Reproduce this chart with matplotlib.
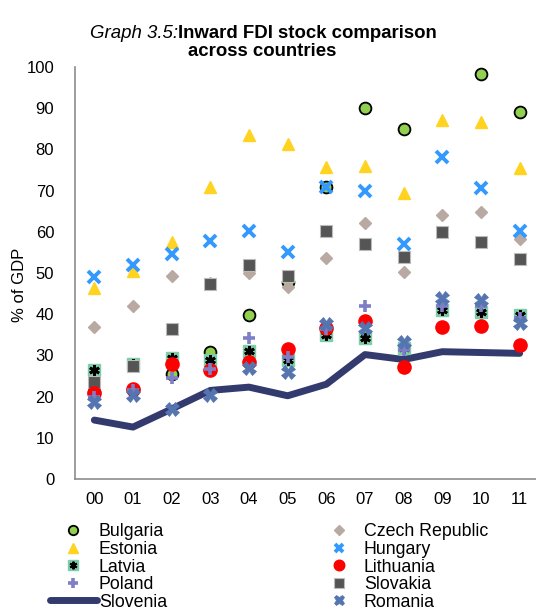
import numpy as np
import matplotlib
matplotlib.use("Agg")
import matplotlib.pyplot as plt
from matplotlib.lines import Line2D
from matplotlib.legend_handler import HandlerTuple

plt.rcParams['font.family'] = ['Liberation Sans', 'DejaVu Sans']

years = ["00", "01", "02", "03", "04", "05", "06", "07", "08", "09", "10", "11"]
bulgaria = [21.0, 21.5, 25.5, 30.8, 39.8, 47.8, 70.8, 90.0, 85.0, np.nan, 98.3, 89.0]
estonia = [46.4, 50.5, 57.5, 70.9, 83.5, 81.3, 75.7, 76.0, 69.4, 87.1, 86.6, 75.5]
latvia = [26.5, 27.8, 29.4, 28.9, 31.0, 28.9, 35.0, 34.2, 31.8, 41.0, 40.5, 39.8]
poland = [20.0, 21.6, 24.5, 26.7, 34.2, 29.7, 36.5, 42.0, 31.3, 42.0, 42.0, 39.0]
slovenia = [14.3, 12.6, 17.0, 21.5, 22.3, 20.2, 23.0, 30.2, 29.0, 30.9, 30.7, 30.5]
czech = [36.9, 42.0, 49.3, 47.5, 50.0, 46.7, 53.6, 62.2, 50.2, 64.0, 64.8, 58.2]
hungary = [49.1, 52.0, 54.6, 57.8, 60.2, 55.1, 70.9, 69.9, 57.0, 78.2, 70.6, 60.2]
lithuania = [20.9, 21.8, 28.0, 26.5, 28.4, 31.5, 36.6, 38.3, 27.2, 36.9, 37.1, 32.5]
slovakia = [23.6, 27.4, 36.4, 47.3, 51.9, 49.3, 60.2, 57.0, 54.0, 60.0, 57.5, 53.4]
romania = [18.7, 20.4, 17.0, 20.4, 27.0, 26.0, 37.6, 36.6, 33.3, 43.9, 43.4, 37.9]

W, H = 536, 610
fig = plt.figure(figsize=(W / 100, H / 100), dpi=100)
ax = fig.add_axes([75 / W, 1 - 479 / H, (539 - 75) / W, (479 - 67) / H])
x = np.arange(len(years))

# styles
s_slo = dict(color='#333B6E', lw=5, solid_capstyle='round', solid_joinstyle='round')
s_bul = dict(ls='none', marker='o', ms=8.5, mfc='#92D050', mec='black', mew=1.3)
s_est = dict(ls='none', marker='^', ms=9, mfc='#FFD320', mec='#FFD320')
s_cze = dict(ls='none', marker='D', ms=6.5, mfc='#B8AAA2', mec='#B8AAA2')
s_lat_bg = dict(ls='none', marker='s', ms=8, mfc='#7DCCAA', mec='#7DCCAA')
s_lat_fg = dict(ls='none', marker=(6, 2, 0), ms=7.5, mec='black', mew=2)
s_svk = dict(ls='none', marker='s', ms=8.5, mfc='#555555', mec='#BBBBBB', mew=0.8)
s_lit = dict(ls='none', marker='o', ms=9.5, mfc='#FF0000', mec='#FF0000')
s_pol = dict(ls='none', marker='+', ms=8.5, mec='#7F7FC8', mew=2.6)
s_hun = dict(ls='none', marker='x', ms=8, mec='#3399FF', mew=2.8)
s_rom = dict(ls='none', marker='X', ms=9.5, mfc='#5575B0', mec='#5575B0', mew=0.5)

ax.plot(x, slovenia, **s_slo, zorder=2)
ax.plot(x, bulgaria, **s_bul, zorder=3)
ax.plot(x, estonia, **s_est, zorder=3)
ax.plot(x, czech, **s_cze, zorder=3)
ax.plot(x, latvia, **s_lat_bg, zorder=3)
ax.plot(x, latvia, **s_lat_fg, zorder=3)
ax.plot(x, slovakia, **s_svk, zorder=3)
ax.plot(x, lithuania, **s_lit, zorder=3)
ax.plot(x, poland, **s_pol, zorder=3)
ax.plot(x, hungary, **s_hun, zorder=3)
ax.plot(x, romania, **s_rom, zorder=3)

ax.set_xlim(-0.5, len(years) - 0.5)
ax.set_ylim(0, 100)
ax.set_yticks(np.arange(0, 101, 10))
ax.set_xticks(x)
ax.set_xticklabels(years)
ax.tick_params(axis='both', length=0, labelsize=12, colors='black')
ax.tick_params(axis='y', pad=15)
ax.tick_params(axis='x', pad=9)
for s in ['top', 'right']:
    ax.spines[s].set_visible(False)
for s in ['left', 'bottom']:
    ax.spines[s].set_color('#8C8C8C')
    ax.spines[s].set_linewidth(1.2)
ax.set_ylabel('% of GDP', fontsize=12)
ax.yaxis.set_label_coords((27 - 75) / 464, 0.47)

# title with mixed styles
fig.canvas.draw()
r = fig.canvas.get_renderer()
t1 = fig.text(0, 1 - 34 / H, 'Graph 3.5:', style='italic', fontsize=13.4, va='center', ha='left')
t2 = fig.text(0, 1 - 34 / H, 'Inward FDI stock comparison', weight='bold', fontsize=13.4, va='center', ha='left')
w1 = t1.get_window_extent(r).width
w2 = t2.get_window_extent(r).width
start = 263 - (w1 + w2) / 2
t1.set_x(start / W)
t2.set_x((start + w1) / W)
fig.text(262 / W, 1 - 51 / H, 'across countries', weight='bold', fontsize=13.4, va='center', ha='center')

def h(style, scale=0.8, **extra):
    kw = dict(style)
    if 'ms' in kw:
        kw['ms'] = kw['ms'] * scale
    kw.update(extra)
    return Line2D([], [], **kw)

handles = [
    h(s_bul), h(s_est),
    (h(s_lat_bg, ms=7.5), h(s_lat_fg, ms=5.5, mew=1.5)),
    h(s_pol),
    h(s_slo),
    h(s_cze), h(s_hun), h(s_lit), h(s_svk), h(s_rom),
]
labels = ['Bulgaria', 'Estonia', 'Latvia', 'Poland', 'Slovenia',
          'Czech Republic', 'Hungary', 'Lithuania', 'Slovakia', 'Romania']
fig.legend(handles, labels, ncol=2, loc='upper left',
           bbox_to_anchor=(50 / W, 1 - 523.5 / H), frameon=False, fontsize=12.8,
           handlelength=2.64, handletextpad=0.11, columnspacing=8.33,
           labelspacing=0.03, borderpad=0, borderaxespad=0,
           handler_map={tuple: HandlerTuple(ndivide=1)})

fig.savefig('out.png', dpi=100)
